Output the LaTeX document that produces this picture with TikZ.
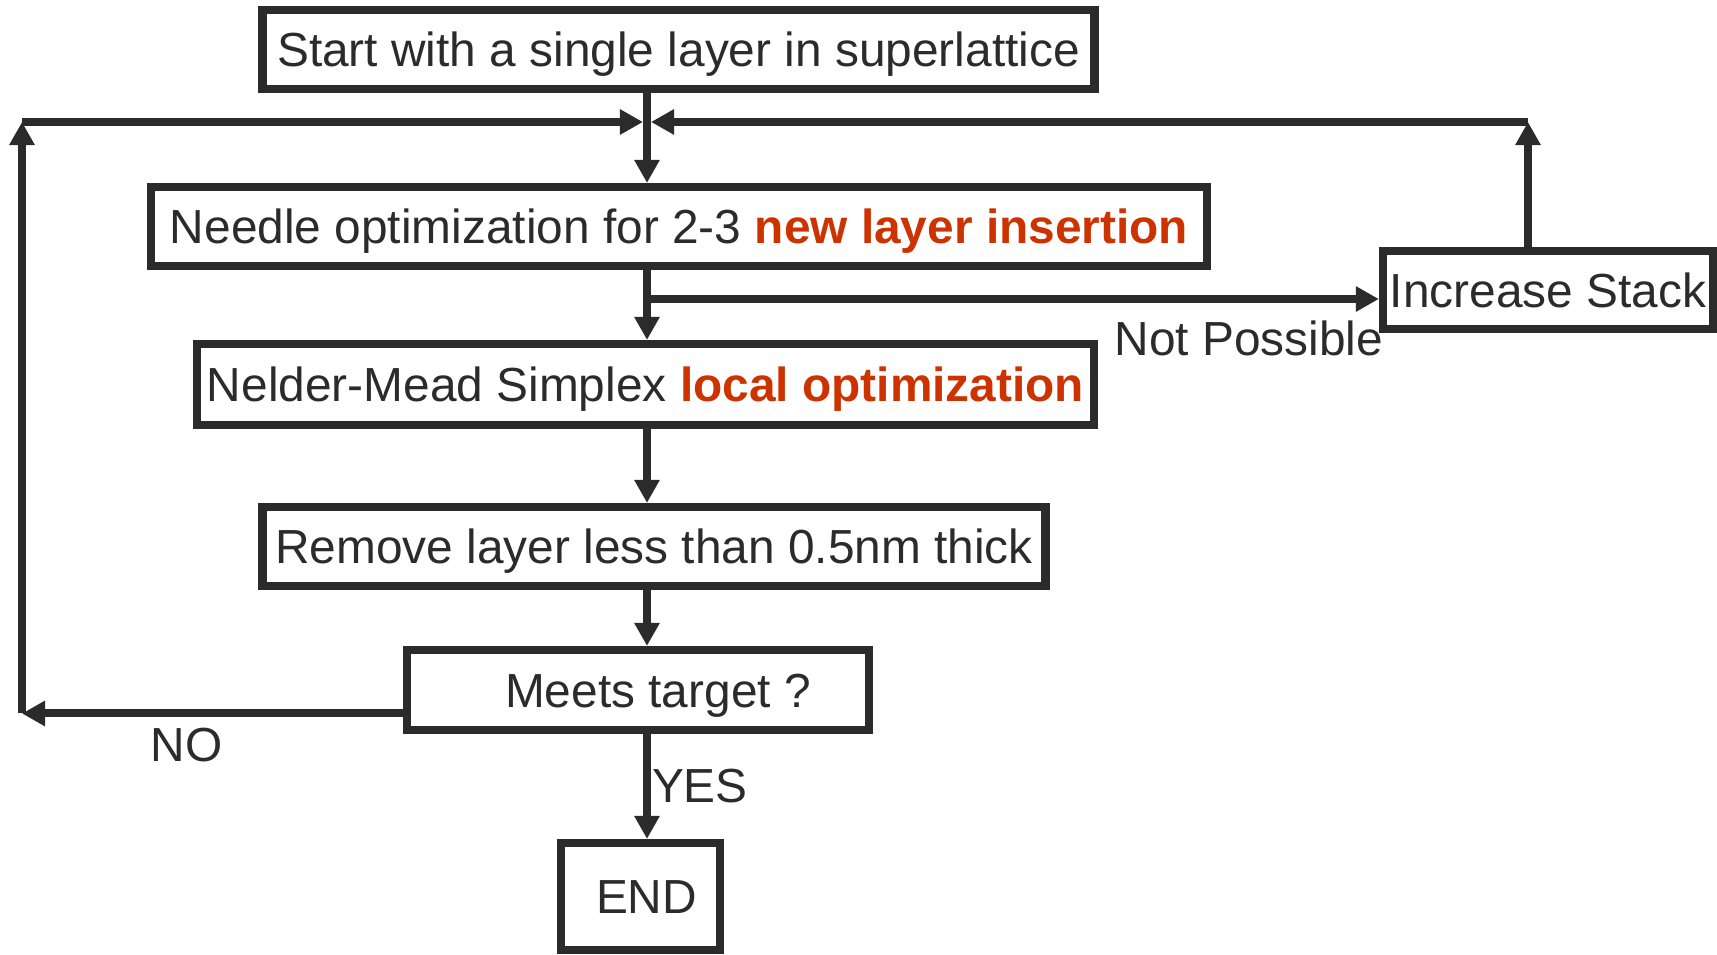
\documentclass[tikz,border=0pt]{standalone}
\usepackage{fontspec}
\setmainfont{Liberation Sans}
\usepackage{xcolor}
\usetikzlibrary{positioning}
\usetikzlibrary{arrows.meta}

\definecolor{linegray}{HTML}{2B2B2B}
\definecolor{accentred}{HTML}{CC3300}

\begin{document}
\begin{tikzpicture}[x=0.01cm, y=-0.01cm, line width=0.08cm, color=linegray,
    font=\fontsize{13.6}{16}\selectfont,
    >={Triangle[length=0.23cm, width=0.24cm]}]
\useasboundingbox (0,0) rectangle (1717,955);

\begin{scope}[every node/.style={rectangle,draw,line width=0.085cm,inner sep=0pt,
                                 text height=9.74pt,text depth=0pt}]
   \node[minimum width=8.32cm, minimum height=0.785cm] (start) at (678.5,49.5) {Start with a single layer in superlattice};
   \node[minimum width=10.55cm, minimum height=0.785cm] (needle) at (679,226.5) {Needle optimization for 2-3 \textcolor{accentred}{\bfseries new layer insertion}};
   \node[minimum width=8.96cm, minimum height=0.805cm] (nelder) at (645.5,384.5) {Nelder-Mead Simplex \textcolor{accentred}{\bfseries local optimization}};
   \node[minimum width=7.83cm, minimum height=0.785cm] (remove) at (654,546.5) {Remove layer less than 0.5nm thick};
   \node[minimum width=4.615cm, minimum height=0.795cm] (meets) at (638,690) {\hspace*{0.4cm}Meets target ?};
   \node[minimum width=1.585cm, minimum height=1.065cm] (end) at (640.5,896.5) {\hspace*{0.12cm}END};

   \node[minimum width=3.295cm, minimum height=0.775cm] (stack) at (1548,290) {Increase Stack};
\end{scope}

\coordinate (hub) at (647,122);
\coordinate (lloop) at (22,122);
\coordinate (rloop) at (1528,122);
\coordinate (noturn) at (22,713.5);
\coordinate (branch) at (647,299);

\begin{scope}[every node/.style={inner sep=0pt}]
   \draw [->] (start.south -| hub) -- (needle.north -| hub);
   \draw [->] (needle.south -| hub) -- (nelder.north -| hub);
   \draw [->] (branch) -- (stack.west |- branch);
   \draw [->] (nelder.south -| hub) -- (remove.north -| hub);
   \draw [->] (remove.south -| hub) -- (meets.north -| hub);
   \draw [->] (meets.south -| hub) -- (end.north -| hub);

   \draw [->] (meets.west |- noturn) -- (noturn);
   \draw [->] (noturn) -- (lloop);
   \draw [->, shorten >=0.04cm] (lloop) -- (hub);

   \draw [->] (stack.north -| rloop) -- (rloop);
   \draw [->, shorten >=0.04cm] (rloop) -- (hub);

   \node[anchor=base east] (notpossible) at (1387,356) {Not Possible};
   \node[anchor=base] (no) at (186.5,762) {NO};
   \node[anchor=base west] (yes) at (648,803) {YES};
\end{scope}
\end{tikzpicture}
\end{document}
